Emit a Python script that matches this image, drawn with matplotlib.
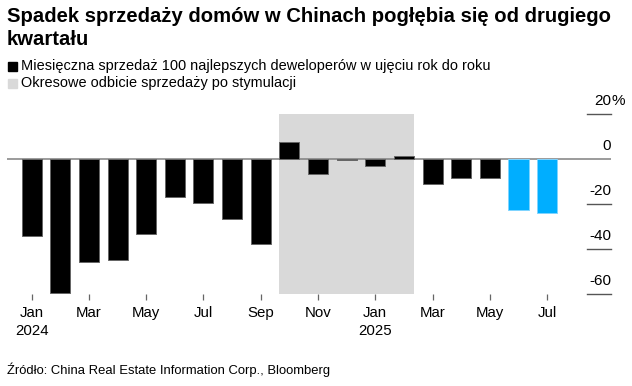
"""Spadek sprzedaży domów w Chinach — miesięczna sprzedaż top 100 deweloperów r/r."""

import matplotlib

matplotlib.use("Agg")
import matplotlib.pyplot as plt
from matplotlib.patches import Rectangle
from matplotlib.transforms import blended_transform_factory

W, H = 632, 386  # rozmiar obrazka w px

months = [
    "2024-01", "2024-02", "2024-03", "2024-04", "2024-05", "2024-06", "2024-07",
    "2024-08", "2024-09", "2024-10", "2024-11", "2024-12", "2025-01", "2025-02",
    "2025-03", "2025-04", "2025-05", "2025-06", "2025-07",
]
yoy_sales = [
    -34.1, -59.7, -45.7, -44.8, -33.3, -16.8, -19.6, -26.5, -37.6, 7.4,
    -6.6, -0.6, -3.0, 1.2, -11.2, -8.5, -8.4, -22.6, -23.8,
]
highlight = [False] * 17 + [True] * 2  # dwa ostatnie miesiące na niebiesko
stimulus_span = ("2024-10", "2025-02")  # okres odbicia po stymulacji

tick_months = ["2024-01", "2024-03", "2024-05", "2024-07", "2024-09", "2024-11",
               "2025-01", "2025-03", "2025-05", "2025-07"]
tick_labels = ["Jan\n2024", "Mar", "May", "Jul", "Sep", "Nov",
               "Jan\n2025", "Mar", "May", "Jul"]
y_ticks = [20, 0, -20, -40, -60]
y_labels = ["20", "0", "-20", "-40", "-60"]

TITLE = ["Spadek sprzedaży domów w Chinach pogłębia się od drugiego", "kwartału"]
LEGEND = [
    ("Miesięczna sprzedaż 100 najlepszych deweloperów w ujęciu rok do roku", "#000000"),
    ("Okresowe odbicie sprzedaży po stymulacji", "#d9d9d9"),
]
SOURCE = "Źródło: China Real Estate Information Corp., Bloomberg"

BAR_W = 0.7
plt.rcParams["font.family"] = ["Liberation Sans", "DejaVu Sans"]

fig = plt.figure(figsize=(W / 100, H / 100), dpi=100)
renderer = fig.canvas.get_renderer()


def fig_text(x_px, y_px, s, width_px=None, **kw):
    """Tekst w px od lewego-górnego rogu; opcjonalnie dopasowuje rozmiar do szerokości."""
    t = fig.text(x_px / W, 1 - y_px / H, s, va="baseline", ha="left", **kw)
    if width_px:
        w = t.get_window_extent(renderer).width
        t.set_fontsize(t.get_fontsize() * width_px / w)
    return t


ax = fig.add_axes([7.3 / W, 1 - 294 / H, (611 - 7.3) / W, (294 - 114) / H])

x = list(range(len(months)))
idx = {m: i for i, m in enumerate(months)}

s0, s1 = idx[stimulus_span[0]], idx[stimulus_span[1]]
ax.axvspan(s0 - BAR_W / 2, s1 + BAR_W / 2, color="#d9d9d9", lw=0, zorder=0)
ax.axhline(0, color="#808080", lw=1.1, zorder=1)

colors = ["#00aeff" if h else "#000000" for h in highlight]
edges = ["#80d4ff" if h else "#666666" for h in highlight]
ax.bar(x, yoy_sales, width=BAR_W, color=colors, edgecolor=edges, linewidth=0.7, zorder=2)

ax.set_xlim(-0.85, 20.23)
ax.set_ylim(-60, 20)

# skala po prawej: krótkie kreski + etykiety nad nimi
tr = blended_transform_factory(ax.transAxes, ax.transData)
for v, lab in zip(y_ticks, y_labels):
    if v != 0:
        ax.plot([0.96, 1.0], [v, v], transform=tr, color="#555555", lw=1.0, clip_on=False)
    ax.annotate(lab, (1.0, v), xycoords=tr, xytext=(0, 6.5), textcoords="offset points",
                ha="right", va="baseline", fontsize=11)
    if v == y_ticks[0]:
        ax.annotate("%", (1.0, v), xycoords=tr, xytext=(0.3, 6.5), textcoords="offset points",
                    ha="left", va="baseline", fontsize=11)

ax.set_xticks([idx[m] for m in tick_months])
ax.set_xticklabels(tick_labels, fontsize=10.8, linespacing=1.3)
ax.tick_params(axis="x", length=4.3, width=0.9, color="#666666", pad=4.5)
ax.set_yticks([])
for sp in ax.spines.values():
    sp.set_visible(False)

t1 = fig_text(7, 21.7, TITLE[0], width_px=602, fontweight="bold", fontsize=13)
fig_text(7, 45, TITLE[1], fontweight="bold", fontsize=t1.get_fontsize())
leg_fs = None
for i, (txt, col) in enumerate(LEGEND):
    base = 70.3 + i * 17
    fig.patches.append(Rectangle((8 / W, 1 - (base + 0.3) / H), 9 / W, 9 / H,
                                 transform=fig.transFigure, color=col, figure=fig))
    if leg_fs is None:
        leg_fs = fig_text(21, base, txt, width_px=470, fontsize=10.5).get_fontsize()
    else:
        fig_text(21, base, txt, fontsize=leg_fs)
fig_text(7, 374.3, SOURCE, width_px=323, fontsize=9.5)

fig.savefig("out.png", dpi=100)
